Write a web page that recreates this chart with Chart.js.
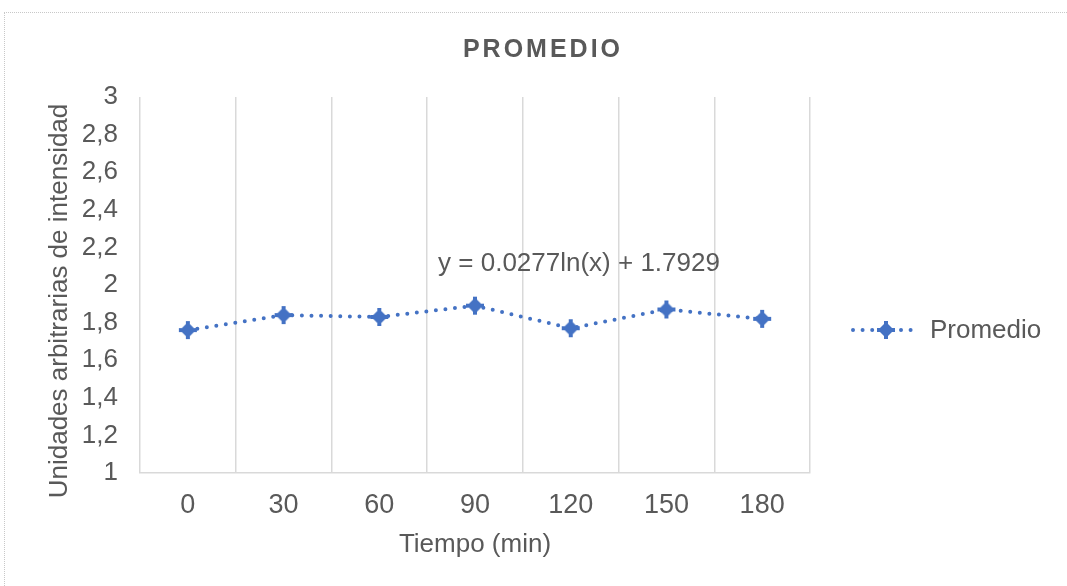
<!DOCTYPE html>
<html><head><meta charset="utf-8">
<script src="https://cdn.jsdelivr.net/npm/chart.js@4"></script>
<style>
html,body{margin:0;padding:0;background:#fff;overflow:hidden}
#wrap{position:relative;width:1067px;height:586px}
#frame{position:absolute;left:4px;top:12px;width:1075px;height:590px;border:1px dotted #c8c8c8;pointer-events:none}
</style></head><body>
<div id="wrap"><canvas id="c" width="1067" height="586"></canvas><div id="frame"></div></div>
<script>
const categories = ['0', '30', '60', '90', '120', '150', '180'];
const promedio = [1.76, 1.84, 1.83, 1.89, 1.77, 1.87, 1.82];
const yMin = 1, yMax = 3, yStep = 0.2;
const chartTitle = 'PROMEDIO';
const xTitle = 'Tiempo (min)';
const yTitle = 'Unidades arbitrarias de intensidad';
const seriesName = 'Promedio';
const trendLabel = 'y = 0.0277ln(x) + 1.7929';

const BLUE = '#4472C4', TXT = '#595959', GRID = '#d9d9d9';
const FONT = '"Liberation Sans", Arial, sans-serif';

function makeMarker(){
  const c = document.createElement('canvas'); c.width = 20; c.height = 20;
  const g = c.getContext('2d'); g.fillStyle = BLUE;
  g.beginPath(); g.moveTo(10,2); g.lineTo(18,10); g.lineTo(10,18); g.lineTo(2,10); g.closePath(); g.fill();
  g.fillRect(8,1,4,18); g.fillRect(1,8,18,4);
  return c;
}
const marker = makeMarker();

const decor = {
  id: 'decor',
  afterDraw(chart){
    const ctx = chart.ctx;
    ctx.save();
    ctx.fillStyle = TXT;
    // title
    ctx.font = 'bold 25px ' + FONT;
    ctx.letterSpacing = '3px';
    ctx.textAlign = 'center'; ctx.textBaseline = 'alphabetic';
    ctx.fillText(chartTitle, 543, 57);
    ctx.letterSpacing = '0px';
    // y title
    ctx.save();
    ctx.font = '26px ' + FONT;
    ctx.translate(67, 301); ctx.rotate(-Math.PI/2);
    ctx.textAlign = 'center'; ctx.textBaseline = 'alphabetic';
    ctx.fillText(yTitle, 0, 0);
    ctx.restore();
    // trend label
    ctx.font = '26px ' + FONT;
    ctx.textAlign = 'center'; ctx.textBaseline = 'alphabetic';
    ctx.fillText(trendLabel, 579, 271);
    // legend
    const ds = chart.data.datasets[0];
    ctx.strokeStyle = ds.borderColor; ctx.lineWidth = ds.borderWidth;
    ctx.lineCap = 'round'; ctx.setLineDash(ds.borderDash);
    ctx.beginPath(); ctx.moveTo(853, 330); ctx.lineTo(914, 330); ctx.stroke();
    ctx.setLineDash([]);
    ctx.drawImage(marker, 886 - 10, 330 - 10);
    ctx.fillStyle = TXT; ctx.font = '26px ' + FONT;
    ctx.textAlign = 'left'; ctx.textBaseline = 'alphabetic';
    ctx.fillText(ds.label, 930, 338);
    ctx.restore();
  }
};

new Chart(document.getElementById('c'), {
  type: 'line',
  data: {
    labels: categories,
    datasets: [{
      label: seriesName,
      data: promedio,
      borderColor: BLUE,
      backgroundColor: BLUE,
      borderWidth: 4,
      borderDash: [0, 9.6],
      borderCapStyle: 'round',
      pointStyle: marker,
      pointRadius: 9,
      tension: 0,
      fill: false
    }]
  },
  options: {
    responsive: false,
    animation: false,
    devicePixelRatio: 1,
    layout: { padding: { top: 97, left: 0, right: 257, bottom: 0 } },
    plugins: { legend: { display: false }, title: { display: false }, tooltip: { enabled: false } },
    scales: {
      x: {
        type: 'category',
        offset: true,
        grid: { display: true, offset: true, color: GRID, lineWidth: 1.5, drawTicks: false },
        border: { display: true, color: GRID, width: 1.5 },
        ticks: { color: TXT, font: { family: FONT, size: 27 }, padding: 16, maxRotation: 0 },
        title: { display: true, text: xTitle, color: TXT, font: { family: FONT, size: 26, lineHeight: 1 }, padding: { top: 0, bottom: 28 } },
        afterFit(s){ s.height = 113; }
      },
      y: {
        min: yMin, max: yMax,
        grid: { display: false, drawTicks: false },
        border: { display: false },
        ticks: { stepSize: yStep, color: TXT, font: { family: FONT, size: 26 }, padding: 22,
          callback: v => String(Math.round(v * 10) / 10).replace('.', ',') },
        afterFit(s){ s.width = 140; }
      }
    }
  },
  plugins: [decor]
});
</script>
</body></html>
